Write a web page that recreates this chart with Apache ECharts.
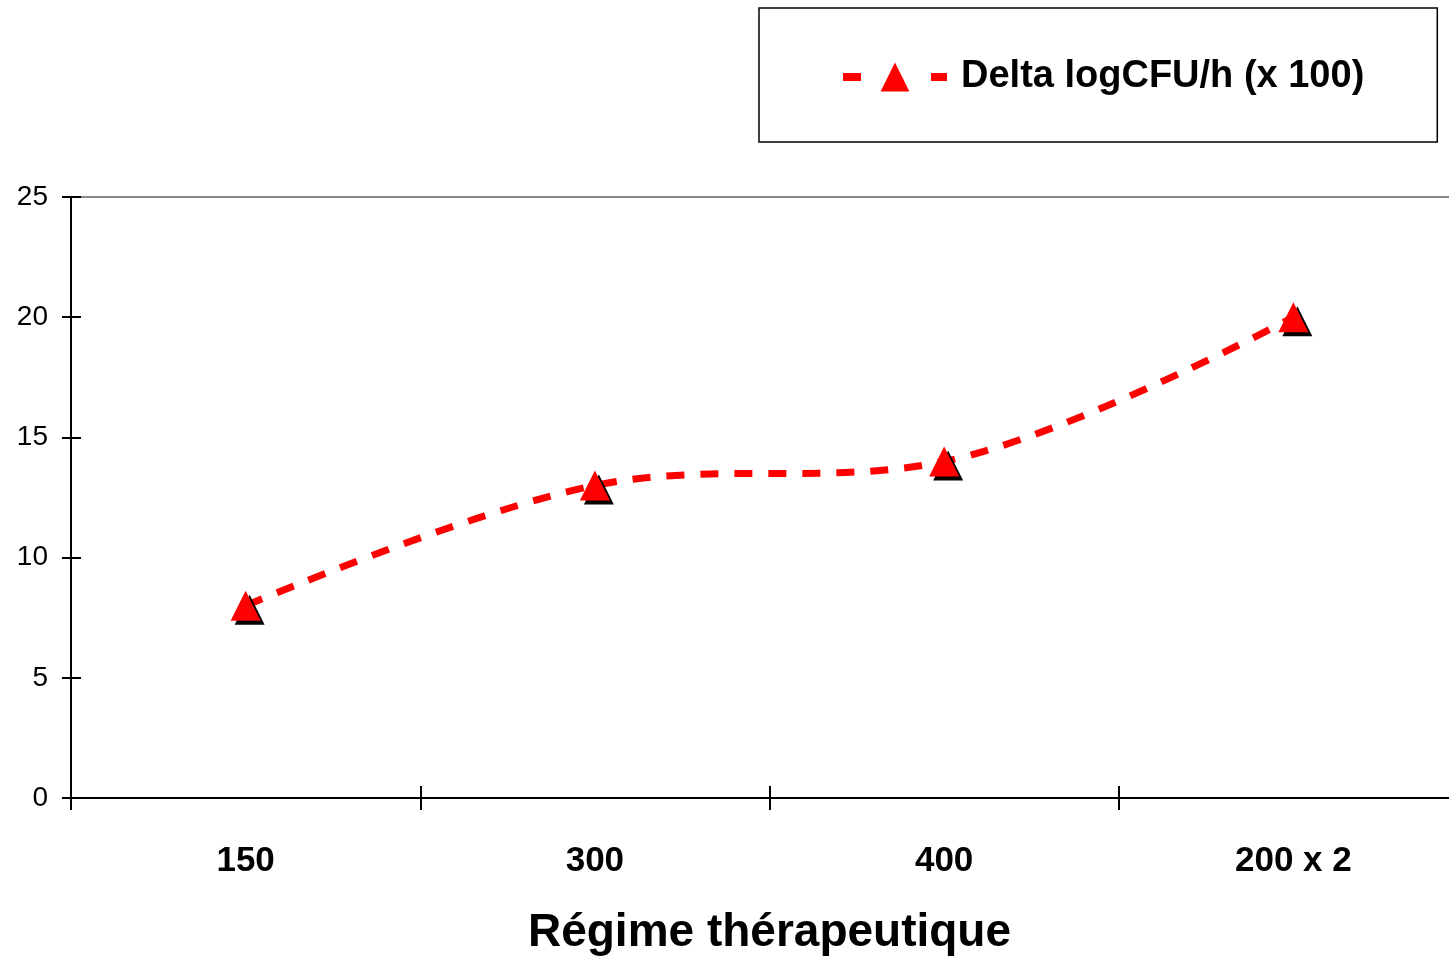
<!DOCTYPE html>
<html>
<head>
<meta charset="utf-8">
<script src="https://cdn.jsdelivr.net/npm/echarts@6/dist/echarts.min.js"></script>
<style>html,body{margin:0;padding:0;background:#fff}#c{width:1449px;height:956px}</style>
</head>
<body>
<div id="c"></div>
<script>
const categories = ['150', '300', '400', '200 x 2'];
const deltaValues = [8, 13, 14, 20];
const seriesName = 'Delta logCFU/h (x 100)';
const axisTitle = 'Régime thérapeutique';
const yMin = 0, yMax = 25, yStep = 5;

const chart = echarts.init(document.getElementById('c'));
const F = '"Liberation Sans", Arial, sans-serif';
chart.setOption({
  animation: false,
  backgroundColor: '#fff',
  textStyle: { fontFamily: F },
  grid: { left: 71, top: 197, width: 1397, height: 601, containLabel: false, outerBoundsMode: 'none' },
  legend: {
    data: [seriesName],
    left: 759, top: 8,
    orient: 'horizontal',
    padding: [50, 73, 46, 80],
    borderColor: '#000', borderWidth: 1.5, borderRadius: 0,
    itemWidth: 104, itemHeight: 36, itemGap: 0,
    lineStyle: { color: '#ff0000', width: 8, type: [18, 70] },
    itemStyle: { color: '#ff0000', shadowColor: 'rgba(0,0,0,0)', shadowOffsetX: 0, shadowOffsetY: 0 },
    textStyle: { fontFamily: F, fontSize: 38, fontWeight: 'bold', color: '#000', padding: [0, 0, 0, 9] }
  },
  xAxis: [
    {
      type: 'category', data: categories, position: 'bottom', boundaryGap: true,
      axisLine: { lineStyle: { color: '#000', width: 2 } },
      axisTick: { show: true, inside: false, length: 12, lineStyle: { color: '#000', width: 2 } },
      axisLabel: { fontFamily: F, fontSize: 35, fontWeight: 'bold', color: '#000', margin: 46 },
      name: axisTitle, nameLocation: 'middle', nameGap: 112,
      nameTextStyle: { fontFamily: F, fontSize: 46, fontWeight: 'bold', color: '#000' },
      splitLine: { show: false }
    },
    {
      type: 'category', data: categories, position: 'bottom', boundaryGap: true,
      axisLine: { show: false },
      axisTick: { show: true, inside: true, length: 12, lineStyle: { color: '#000', width: 2 } },
      axisLabel: { show: false }, splitLine: { show: false }
    },
    {
      type: 'category', data: categories, position: 'top', boundaryGap: true,
      axisLine: { show: true, lineStyle: { color: '#888', width: 2 } },
      axisTick: { show: false }, axisLabel: { show: false }, splitLine: { show: false }
    }
  ],
  yAxis: [
    {
      type: 'value', min: yMin, max: yMax, interval: yStep, position: 'left',
      axisLine: { show: true, lineStyle: { color: '#000', width: 2 } },
      axisTick: { show: true, inside: false, length: 9, lineStyle: { color: '#000', width: 2 } },
      axisLabel: { fontFamily: F, fontSize: 28, color: '#000', margin: 23, padding: [3, 0, 0, 0] },
      splitLine: { show: false }
    },
    {
      type: 'value', min: yMin, max: yMax, interval: yStep, position: 'left',
      axisLine: { show: false },
      axisTick: { show: true, inside: true, length: 10, lineStyle: { color: '#000', width: 2 } },
      axisLabel: { show: false }, splitLine: { show: false }
    }
  ],
  series: [{
    name: seriesName,
    type: 'line',
    data: deltaValues,
    smooth: 0.35,
    symbol: 'triangle',
    symbolSize: [30, 30],
    itemStyle: { color: '#ff0000', shadowColor: '#000', shadowOffsetX: 4, shadowOffsetY: 4, shadowBlur: 0 },
    lineStyle: { color: '#ff0000', width: 7, type: [18, 16] }
  }]
});
</script>
</body>
</html>
